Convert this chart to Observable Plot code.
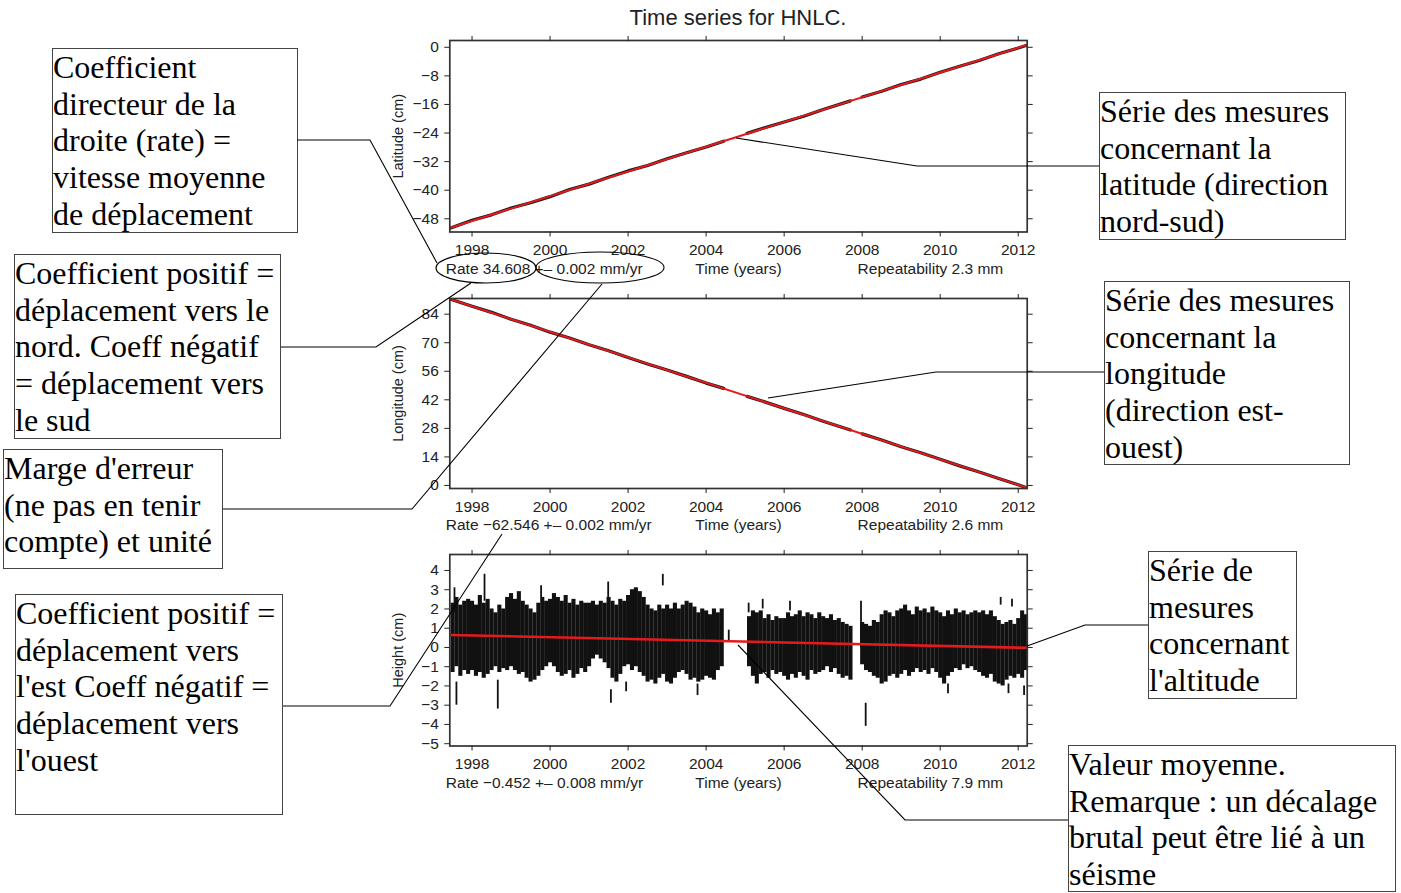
<!DOCTYPE html>
<html><head><meta charset="utf-8">
<script src="https://cdn.jsdelivr.net/npm/d3@7"></script>
<script src="https://cdn.jsdelivr.net/npm/@observablehq/plot@0.6"></script>
<style>
html,body{margin:0;padding:0;background:#fff;}
#root{position:relative;width:1401px;height:893px;overflow:hidden;background:#fff;}
.panel{position:absolute;left:380px;}
.box{position:absolute;border:1px solid #444;box-sizing:border-box;font-family:"Liberation Serif","Times New Roman",serif;font-size:32px;line-height:36.7px;color:#000;white-space:nowrap;padding:0;background:#fff;}
#title{position:absolute;left:538px;width:400px;text-align:center;top:7px;line-height:22px;font-family:"Liberation Sans",Arial,sans-serif;font-size:22px;color:#222;}
svg.overlay{position:absolute;left:0;top:0;pointer-events:none;}
</style></head><body><div id="root"><div id="title">Time series for HNLC.</div></div>
<script>
// ---------- data ----------
const yearTicks = [1998, 2000, 2002, 2004, 2006, 2008, 2010, 2012];
const latTicks = [0, -8, -16, -24, -32, -40, -48];
const lonTicks = [0, 14, 28, 42, 56, 70, 84];
const hTicks = [-5, -4, -3, -2, -1, 0, 1, 2, 3, 4];

// lat / lon measured series (NaN = data gap)
const posYear = [1997.45,1998,1998.5,1999,1999.5,2000,2000.5,2001,2001.5,2002,2002.5,2003,2003.5,2004,2004.45,2004.75,
  2005.05,2005.5,2006,2006.5,2007,2007.7,2007.85,
  2008.0,2008.5,2009,2009.5,2010,2010.5,2011,2011.5,2012,2012.2];
const latValue = [-50.6,-48.4,-46.9,-45.0,-43.5,-41.8,-39.8,-38.3,-36.4,-34.6,-33.1,-31.2,-29.5,-27.9,-26.3,NaN,
  -24.1,-22.5,-20.9,-19.3,-17.4,-15.0,NaN,
  -13.9,-12.3,-10.4,-8.9,-7.0,-5.3,-3.7,-1.8,-0.2,0.5];
const lonValue = [91.3,87.9,84.9,81.5,78.6,75.2,72.3,69.0,66.1,62.8,59.6,56.6,53.5,50.2,47.6,NaN,
  43.7,41.0,37.8,34.8,31.5,27.2,NaN,
  25.3,22.3,19.0,16.0,12.8,9.6,6.6,3.4,0.3,-1.0];

// linear fits (rate lines)
const fitYear = [1997.45, 2012.2];
const latFit = [-50.5, 0.55];
const lonFit = [91.3, -0.95];
const hFit = [0.65, -0.02];

// height: dense daily scatter, summarised as low/high extent per 0.1 yr
const hYear = [1997.5,1997.6,1997.7,1997.8,1997.9,
 1998.0,1998.1,1998.2,1998.3,1998.4,1998.5,1998.6,1998.7,1998.8,1998.9,
 1999.0,1999.1,1999.2,1999.3,1999.4,1999.5,1999.6,1999.7,1999.8,1999.9,
 2000.0,2000.1,2000.2,2000.3,2000.4,2000.5,2000.6,2000.7,2000.8,2000.9,
 2001.0,2001.1,2001.2,2001.3,2001.4,2001.5,2001.6,2001.7,2001.8,2001.9,
 2002.0,2002.1,2002.2,2002.3,2002.4,2002.5,2002.6,2002.7,2002.8,2002.9,
 2003.0,2003.1,2003.2,2003.3,2003.4,2003.5,2003.6,2003.7,2003.8,2003.9,
 2004.0,2004.1,2004.2,2004.3,2004.4,
 2005.1,2005.2,2005.3,2005.4,2005.5,2005.6,2005.7,2005.8,2005.9,
 2006.0,2006.1,2006.2,2006.3,2006.4,2006.5,2006.6,2006.7,2006.8,2006.9,
 2007.0,2007.1,2007.2,2007.3,2007.4,2007.5,2007.6,2007.7,
 2008.0,2008.1,2008.2,2008.3,2008.4,2008.5,2008.6,2008.7,2008.8,2008.9,
 2009.0,2009.1,2009.2,2009.3,2009.4,2009.5,2009.6,2009.7,2009.8,2009.9,
 2010.0,2010.1,2010.2,2010.3,2010.4,2010.5,2010.6,2010.7,2010.8,2010.9,
 2011.0,2011.1,2011.2,2011.3,2011.4,2011.5,2011.6,2011.7,2011.8,2011.9,
 2012.0,2012.1,2012.2];
const hHigh = [2.3,2.6,2.2,2.4,2.5,
 2.4,2.2,2.7,2.3,2.5,2.0,1.8,2.2,2.0,2.6,
 2.8,2.5,2.9,2.4,2.2,2.0,1.8,2.3,2.6,2.4,
 2.5,2.8,2.6,2.4,2.7,2.3,2.5,2.2,2.4,2.3,
 2.3,2.4,2.2,2.4,2.3,2.6,2.4,2.2,2.5,2.4,
 2.7,3.0,3.1,2.9,2.6,2.2,2.0,1.9,2.2,2.0,
 2.2,2.0,2.3,2.0,2.2,2.4,2.3,2.1,1.8,2.0,
 1.9,1.7,2.0,1.8,2.0,
 1.6,1.9,1.8,1.9,1.5,1.7,1.4,1.6,1.5,
 1.5,1.8,1.6,1.7,1.9,1.6,1.8,1.7,1.5,1.8,
 1.6,1.5,1.7,1.4,1.5,1.3,1.2,1.1,
 1.3,1.2,1.1,1.4,1.3,1.7,1.9,1.8,1.6,1.9,
 2.0,2.2,1.9,1.7,2.1,1.9,2.0,1.8,2.1,1.9,
 1.8,1.6,1.9,1.7,2.0,1.8,1.9,1.7,1.8,1.9,
 1.8,1.9,1.7,1.9,1.6,1.4,1.2,1.3,1.4,1.2,
 1.5,1.9,1.7];
const hLow = [-1.3,-1.0,-1.5,-1.2,-1.4,
 -1.2,-1.5,-1.3,-1.6,-1.4,-1.2,-1.0,-1.3,-1.1,-1.2,
 -1.0,-1.2,-1.4,-1.3,-1.6,-1.8,-1.7,-1.5,-1.2,-1.0,
 -0.8,-1.0,-1.3,-1.5,-1.4,-1.2,-1.6,-1.4,-1.1,-1.3,
 -1.0,-0.6,-0.4,-0.6,-0.8,-1.1,-1.6,-1.8,-1.4,-1.0,
 -0.9,-1.2,-1.0,-1.3,-1.5,-1.8,-1.7,-1.9,-1.6,-1.4,
 -1.8,-1.9,-1.6,-1.3,-1.2,-1.4,-1.7,-1.6,-1.8,-1.7,
 -1.5,-1.6,-1.7,-1.2,-1.0,
 -1.0,-1.5,-1.9,-1.4,-1.3,-1.6,-1.2,-1.4,-1.3,
 -1.5,-1.7,-1.4,-1.6,-1.3,-1.5,-1.7,-1.2,-1.4,-1.3,
 -1.2,-1.0,-1.3,-1.1,-1.4,-1.6,-1.5,-1.7,
 -0.9,-1.2,-1.3,-1.5,-1.6,-1.9,-1.8,-1.5,-1.4,-1.6,
 -1.4,-1.2,-1.5,-1.3,-1.1,-1.3,-1.2,-1.4,-1.1,-1.3,
 -1.6,-1.9,-1.5,-1.3,-1.1,-1.2,-0.9,-1.1,-1.0,-1.2,
 -1.3,-1.5,-1.6,-1.4,-1.8,-1.9,-2.0,-1.7,-1.5,-1.6,
 -1.4,-1.6,-1.2];
// isolated height measurements outside the dense band
const oYear = [1997.55,1997.6,1998.32,1998.66,1999.77,2001.49,2001.56,2001.95,2002.89,2003.78,2004.58,2005.09,2005.45,2006.15,2007.97,2008.09,2010.2,2011.55,2011.84,2011.75,2012.15];
const oLow  = [1.8,-3.0,2.4,-3.2,2.6,2.6,-2.9,-2.3,3.2,-2.5,0.3,1.8,2.0,1.9,0.0,-4.1,-2.4,2.2,2.1,-2.4,-2.5];
const oHigh = [3.1,-1.8,3.8,-1.7,3.2,3.4,-2.2,-1.8,3.8,-1.9,0.9,2.3,2.5,2.4,2.4,-2.9,-1.9,2.6,2.5,-1.9,-2.0];

const rateTexts = ["Rate 34.608 +\u2013 0.002 mm/yr", "Rate \u221262.546 +\u2013 0.002 mm/yr", "Rate \u22120.452 +\u2013 0.008 mm/yr"];
const repTexts = ["Repeatability 2.3 mm", "Repeatability 2.6 mm", "Repeatability 7.9 mm"];
const yLabels = ["Latitude (cm)", "Longitude (cm)", "Height (cm)"];

// ---------- build ----------
const xDomain = [1997.43, 2012.23];
const RED = "#e41a1c";
const root = document.getElementById("root");

const posRows = posYear.map((t, i) => ({t, lat: latValue[i], lon: lonValue[i]}));
const fitRows = fitYear.map((t, i) => ({t, lat: latFit[i], lon: lonFit[i], h: hFit[i]}));
const hRows = hYear.map((t, i) => ({t, lo: hLow[i], hi: hHigh[i]}));
const oRows = oYear.map((t, i) => ({t, lo: oLow[i], hi: oHigh[i]}));

const fmt = d => String(d).replace("-", "\u2212");

function panel(idx, top, h, yDomain, yTicks, dataMarks) {
  const mt = 10, mb = 52;
  const svg = Plot.plot({
    width: 680, height: h + mt + mb,
    marginLeft: 69.3, marginRight: 33.3, marginTop: mt, marginBottom: mb,
    x: {domain: xDomain},
    y: {domain: yDomain},
    style: {fontFamily: "'Liberation Sans', Arial, sans-serif", fontSize: "15.5px", color: "#222", background: "transparent", overflow: "visible"},
    marks: [
      ...dataMarks,
      Plot.frame({stroke: "#333", strokeWidth: 1.7}),
      Plot.axisX({anchor: "bottom", ticks: yearTicks, tickSize: 5, tickPadding: 7, tickFormat: d => String(d), label: null}),
      Plot.axisX({anchor: "top", ticks: yearTicks, tickSize: 5, tickFormat: () => "", label: null}),
      Plot.axisY({anchor: "left", ticks: yTicks, tickSize: 5, tickPadding: 6, tickFormat: fmt, label: null}),
      Plot.axisY({anchor: "right", ticks: yTicks, tickSize: 5, tickFormat: () => "", label: null}),
      Plot.text([yLabels[idx]], {frameAnchor: "left", dx: -51, rotate: -90, fontSize: 14.5, textAnchor: "middle", lineAnchor: "middle", fill: "#222"}),
      Plot.text([rateTexts[idx]], {frameAnchor: "bottom-left", dx: -4, dy: 37, textAnchor: "start", lineAnchor: "middle", fill: "#222"}),
      Plot.text(["Time (years)"], {frameAnchor: "bottom", dy: 37, textAnchor: "middle", lineAnchor: "middle", fill: "#222"}),
      Plot.text([repTexts[idx]], {frameAnchor: "bottom-right", dx: -24, dy: 37, textAnchor: "end", lineAnchor: "middle", fill: "#222"})
    ]
  });
  svg.classList.add("panel");
  svg.style.position = "absolute";
  svg.style.left = "380px";
  svg.style.top = (top - mt) + "px";
  root.appendChild(svg);
}

panel(0, 39.5, 191.5, [-51.7, 1.9], latTicks, [
  Plot.line(posRows, {x: "t", y: "lat", stroke: "#1a1a1a", strokeWidth: 3.2}),
  Plot.line(fitRows, {x: "t", y: "lat", stroke: RED, strokeWidth: 2})
]);
panel(1, 297.5, 190, [-1.5, 91.7], lonTicks, [
  Plot.line(posRows, {x: "t", y: "lon", stroke: "#1a1a1a", strokeWidth: 3.2}),
  Plot.line(fitRows, {x: "t", y: "lon", stroke: RED, strokeWidth: 2})
]);
panel(2, 553.5, 191.5, [-5.12, 4.83], hTicks, [
  Plot.ruleX(hRows, {x: "t", y1: "lo", y2: "hi", stroke: "#111", strokeWidth: 4.1}),
  Plot.ruleX(oRows, {x: "t", y1: "lo", y2: "hi", stroke: "#111", strokeWidth: 1.8}),
  Plot.line(fitRows, {x: "t", y: "h", stroke: RED, strokeWidth: 2.6})
]);

// ---------- annotation boxes ----------
const boxes = [
  {l: 52, t: 48, w: 246, h: 185, lines: ["Coefficient", "directeur de la", "droite (rate) =", "vitesse moyenne", "de déplacement"]},
  {l: 14, t: 254, w: 267, h: 185, lines: ["Coefficient positif =", "déplacement vers le", "nord. Coeff négatif", "= déplacement vers", "le sud"]},
  {l: 3, t: 449, w: 220, h: 120, lines: ["Marge d'erreur", "(ne pas en tenir", "compte) et unité"]},
  {l: 15, t: 594, w: 268, h: 221, lines: ["Coefficient positif =", "déplacement vers", "l'est Coeff négatif =", "déplacement vers", "l'ouest"]},
  {l: 1099, t: 92, w: 247, h: 148, lines: ["Série des mesures", "concernant la", "latitude (direction", "nord-sud)"]},
  {l: 1104, t: 281, w: 246, h: 184, lines: ["Série des mesures", "concernant la", "longitude", "(direction est-", "ouest)"]},
  {l: 1148, t: 551, w: 149, h: 148, lines: ["Série de", "mesures", "concernant", "l'altitude"]},
  {l: 1068, t: 745, w: 328, h: 147, lines: ["Valeur moyenne.", "Remarque : un décalage", "brutal peut être lié à un", "séisme"]}
];
for (const b of boxes) {
  const d = document.createElement("div");
  d.className = "box";
  Object.assign(d.style, {left: b.l + "px", top: b.t + "px", width: b.w + "px", height: b.h + "px"});
  b.lines.forEach((s, i) => {
    const ln = document.createElement("div");
    ln.textContent = s;
    d.appendChild(ln);
  });
  root.appendChild(d);
}

// ---------- leader lines & ellipses ----------
const leaders = [
  "297,140 370,140 437,263",
  "281,347 376,347 471,283",
  "223,509 412,509 602,284",
  "283,706 390,706 502,534",
  "1099,166 917,166 736,138",
  "1104,372 936,372 768,398",
  "1148,625 1085,625 1027,646",
  "1068,820 905,820 738,645"
];
const ov = d3.select(root).append("svg").attr("class", "overlay").attr("width", 1401).attr("height", 893);
ov.selectAll("polyline").data(leaders).join("polyline")
  .attr("points", d => d).attr("fill", "none").attr("stroke", "#000").attr("stroke-width", 1.1);
ov.selectAll("ellipse").data([[486, 268, 50, 15], [600, 267.5, 64, 15.5]]).join("ellipse")
  .attr("cx", d => d[0]).attr("cy", d => d[1]).attr("rx", d => d[2]).attr("ry", d => d[3])
  .attr("fill", "none").attr("stroke", "#000").attr("stroke-width", 1.1);
</script></body></html>
